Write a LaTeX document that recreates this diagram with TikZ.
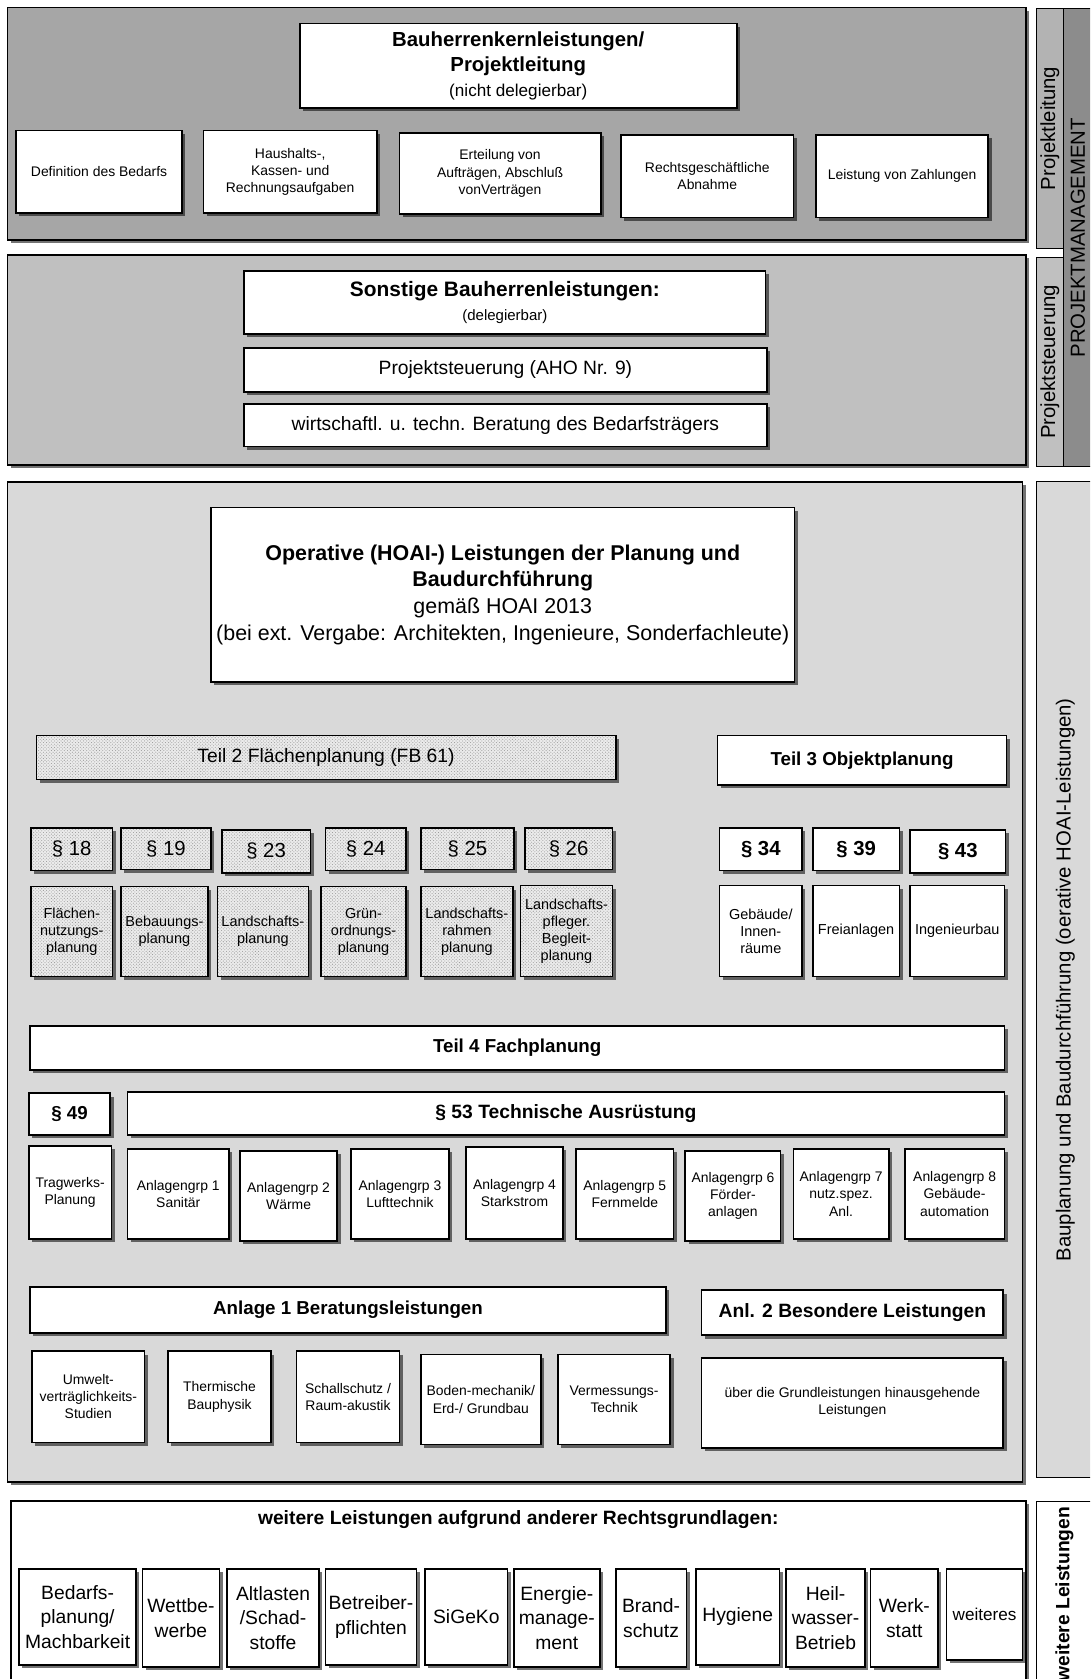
\documentclass[tikz,border=0pt]{standalone}
\usepackage{fontspec}
\setmainfont{Liberation Sans}
\usetikzlibrary{shadows, patterns}
\definecolor{pnlA}{HTML}{A6A6A6}
\definecolor{pnlB}{HTML}{C0C0C0}
\definecolor{pnlC}{HTML}{D9D9D9}
\definecolor{sideA}{HTML}{B3B3B3}
\definecolor{sideM}{HTML}{8C8C8C}

\begin{document}
\begin{tikzpicture}[x=1pt, y=-1pt,
  sz/.style 2 args={minimum width=#1, minimum height=#2},
  shdw/.style={drop shadow={shadow xshift=3pt, shadow yshift=-3pt, fill=black, opacity=.55}},
  pnl/.style={draw, line width=1.6pt, fill=#1, shdw, inner sep=0pt},
  sidebox/.style={draw, line width=0.9pt, fill=#1, rotate=90, inner sep=0pt,
    font=\fontsize{19}{22}\selectfont},
  cell/.style={draw, line width=1.6pt, fill=white, shdw, align=center, inner sep=1pt,
    font=\fontsize{13}{16}\selectfont},
  headbox/.style={cell, font=\bfseries\fontsize{17.5}{21}\selectfont},
  parbox/.style={cell, font=\fontsize{19}{22}\selectfont},
  parboxb/.style={cell, font=\bfseries\fontsize{19}{22}\selectfont},
  bigbox/.style={cell, font=\fontsize{18}{23}\selectfont},
  grain/.style={preaction={fill=black!8}, pattern=crosshatch dots, pattern color=black!40},
]

\clip (0,0) rectangle (1018,1568);
\fill[white] (0,0) rectangle (1018,1568);

% =============================================
% Background panels and side bars
% =============================================
\node[pnl=pnlA, sz={951}{217}] (plPanel) at (482.5,115.5) {};
\node[pnl=pnlB, sz={951}{196}] (psPanel) at (482.5,336) {};
\node[pnl=pnlC, sz={948}{934}] (bpPanel) at (481,917) {};
\node[pnl=white, sz={948}{200}] (wlPanel) at (484,1502) {};

\node[sidebox=sideA, sz={224}{25}] (plSide) at (980.5,120) {Projektleitung};
\node[sidebox=sideM, sz={428}{27}] (pmSide) at (1006.5,222) {PROJEKTMANAGEMENT};
\node[sidebox=pnlB, sz={196}{25}] (psSide) at (980.5,338) {Projektsteuerung};
\node[sidebox=pnlC, sz={930}{54}] (bpSide) at (995,915)
  {Bauplanung und Baudurchführung (oerative HOAI-Leistungen)};
\node[sidebox=white, sz={200}{54}] (wlSide) at (995,1502) {};
\node[rotate=90, anchor=east, inner sep=0pt, font=\bfseries\fontsize{18}{22}\selectfont]
  (wlLabel) at (994,1407) {weitere Leistungen};

% =============================================
% Projektleitung
% =============================================
\node[cell, sz={408}{79}, font=\fontsize{19}{23}\selectfont] (kern) at (484,61.5)
  {\textbf{Bauherrenkernleistungen/}\\\textbf{Projektleitung}\\{\fontsize{16}{20}\selectfont (nicht delegierbar)}};

\node[cell, sz={155}{77}] (bedarf) at (92.5,160.5) {Definition des Bedarfs};
\node[cell, sz={162}{77}] (kasse) at (271,160.5) {Haushalts-,\\Kassen- und\\Rechnungsaufgaben};
\node[cell, sz={188}{76}] (auftrag) at (467,162) {Erteilung von\\Aufträgen, Abschluß\\vonVerträgen};
\node[cell, sz={161}{77}] (abnahme) at (660.5,164.5) {Rechtsgeschäftliche\\Abnahme};
\node[cell, sz={161}{77}] (zahlung) at (842.5,164.5) {Leistung von Zahlungen};

% =============================================
% Projektsteuerung
% =============================================
\node[cell, sz={487}{59}, font=\bfseries\fontsize{19.5}{23}\selectfont] (sonstige) at (471.5,282.5)
  {Sonstige Bauherrenleistungen:\\{\mdseries\fontsize{14}{17}\selectfont (delegierbar)}};
\node[cell, sz={488}{41}, font=\fontsize{18}{22}\selectfont] (aho) at (472,345.5)
  {Projektsteuerung (AHO Nr. 9)};
\node[cell, sz={488}{40}, font=\fontsize{18}{22}\selectfont] (beratung) at (472,397)
  {wirtschaftl. u. techn. Beratung des Bedarfsträgers};

% =============================================
% Operative HOAI-Leistungen
% =============================================
\node[cell, sz={545}{163}, font=\fontsize{20}{25}\selectfont] (operativ) at (469.5,555.5)
  {\textbf{Operative (HOAI-) Leistungen der Planung und}\\\textbf{Baudurchführung}\\gemäß HOAI 2013\\(bei ext. Vergabe: Architekten, Ingenieure, Sonderfachleute)};

% Teil 2
\node[cell, grain, sz={541}{41}, font=\fontsize{18}{22}\selectfont] (teilzwei) at (304.5,707.5)
  {Teil 2 Flächenplanung (FB 61)};

\node[parbox, grain, sz={76}{40}] (p18) at (67,793) {§ 18};
\node[parbox, grain, sz={84}{39}] (p19) at (155,792.5) {§ 19};
\node[parbox, grain, sz={83}{40}] (p23) at (248.5,795) {§ 23};
\node[parbox, grain, sz={75}{40}] (p24) at (341.5,793) {§ 24};
\node[parbox, grain, sz={87}{39}] (p25) at (436.5,792.5) {§ 25};
\node[parbox, grain, sz={82}{39}] (p26) at (531,792.5) {§ 26};

\node[cell, grain, sz={76}{84}, font=\fontsize{13.5}{16}\selectfont] (fnp) at (67,870) {Flächen-\\nutzungs-\\planung};
\node[cell, grain, sz={81}{84}, font=\fontsize{13.5}{16}\selectfont] (bbp) at (153.5,870) {Bebauungs-\\planung};
\node[cell, grain, sz={85}{84}, font=\fontsize{13.5}{16}\selectfont] (lsp) at (245.5,870) {Landschafts-\\planung};
\node[cell, grain, sz={79}{84}, font=\fontsize{13.5}{16}\selectfont] (gop) at (339.5,870) {Grün-\\ordnungs-\\planung};
\node[cell, grain, sz={86}{84}, font=\fontsize{13.5}{16}\selectfont] (lrp) at (436,870) {Landschafts-\\rahmen\\planung};
\node[cell, grain, sz={86}{85}, font=\fontsize{13.5}{16}\selectfont] (lpb) at (529,869.5) {Landschafts-\\pfleger.\\Begleit-\\planung};

% Teil 3
\node[headbox, sz={270}{46}] (teildrei) at (805,710) {Teil 3 Objektplanung};

\node[parboxb, sz={77}{40}] (p34) at (710.5,793) {§ 34};
\node[parboxb, sz={81}{40}] (p39) at (799.5,793) {§ 39};
\node[parboxb, sz={89}{40}] (p43) at (894.5,795) {§ 43};

\node[cell, sz={77}{85}, font=\fontsize{13.5}{16}\selectfont] (gebaeude) at (710.5,869.5) {Gebäude/\\Innen-\\räume};
\node[cell, sz={81}{85}, font=\fontsize{13.5}{16}\selectfont] (frei) at (799.5,869.5) {Freianlagen};
\node[cell, sz={88}{85}, font=\fontsize{13.5}{16}\selectfont] (ingbau) at (894,869.5) {Ingenieurbau};

% Teil 4
\node[headbox, sz={910}{41}] (teilvier) at (483,978.5) {Teil 4 Fachplanung};
\node[headbox, sz={76}{39}] (p49) at (65,1040.5) {§ 49};
\node[headbox, sz={819}{40}, font=\bfseries\fontsize{18}{21}\selectfont] (p53) at (528.5,1040)
  {§ 53 Technische Ausrüstung};

\node[cell, sz={77}{87}] (trag) at (65.5,1113.5) {Tragwerks-\\Planung};
\node[cell, sz={95}{84}] (ag1) at (166.5,1115) {Anlagengrp 1\\Sanitär};
\node[cell, sz={91}{84}] (ag2) at (269.5,1117) {Anlagengrp 2\\Wärme};
\node[cell, sz={91}{84}] (ag3) at (373.5,1115) {Anlagengrp 3\\Lufttechnik};
\node[cell, sz={91}{86}] (ag4) at (480.5,1114) {Anlagengrp 4\\Starkstrom};
\node[cell, sz={91}{84}] (ag5) at (583.5,1115) {Anlagengrp 5\\Fernmelde};
\node[cell, sz={89}{84}] (ag6) at (684.5,1117) {Anlagengrp 6\\Förder-\\anlagen};
\node[cell, sz={89}{84}] (ag7) at (785.5,1115) {Anlagengrp 7\\nutz.spez.\\Anl.};
\node[cell, sz={93}{84}] (ag8) at (891.5,1115) {Anlagengrp 8\\Gebäude-\\automation};

% Anlagen 1 und 2
\node[headbox, sz={594}{43}] (anleins) at (325,1223.5) {Anlage 1 Beratungsleistungen};
\node[headbox, sz={282}{42}, font=\bfseries\fontsize{18}{21}\selectfont] (anlzwei) at (796,1226)
  {Anl. 2 Besondere Leistungen};

\node[cell, sz={105}{85}] (umwelt) at (82.5,1304.5) {Umwelt-\\verträglichkeits-\\Studien};
\node[cell, sz={96}{85}] (thermik) at (205,1304.5) {Thermische\\Bauphysik};
\node[cell, sz={96}{85}] (akustik) at (325,1304.5) {Schallschutz /\\Raum-akustik};
\node[cell, sz={112}{84}] (boden) at (449,1307) {Boden-mechanik/\\Erd-/ Grundbau};
\node[cell, sz={105}{84}] (vermessung) at (573.5,1307) {Vermessungs-\\Technik};
\node[cell, sz={282}{84}] (besondere) at (796,1310) {über die Grundleistungen hinausgehende\\Leistungen};

% =============================================
% Weitere Leistungen
% =============================================
\node[font=\bfseries\fontsize{18}{22}\selectfont] (wltitel) at (484,1419)
  {weitere Leistungen aufgrund anderer Rechtsgrundlagen:};

\node[bigbox, sz={109}{90}] (bplan) at (72.5,1510) {Bedarfs-\\planung/\\Machbarkeit};
\node[bigbox, sz={72}{92}] (wettb) at (169,1511) {Wettbe-\\werbe};
\node[bigbox, sz={86}{92}] (altlast) at (255,1511) {Altlasten\\/Schad-\\stoffe};
\node[bigbox, sz={85}{90}] (betreiber) at (346.5,1510) {Betreiber-\\pflichten};
\node[bigbox, sz={77}{90}] (sigeko) at (435.5,1510) {SiGeKo};
\node[bigbox, sz={80}{92}] (energie) at (520,1511) {Energie-\\manage-\\ment};
\node[bigbox, sz={66}{92}] (brand) at (608,1511) {Brand-\\schutz};
\node[bigbox, sz={78}{90}] (hygiene) at (689,1510) {Hygiene};
\node[bigbox, sz={74}{92}] (heilwasser) at (771,1511) {Heil-\\wasser-\\Betrieb};
\node[bigbox, sz={63}{92}] (werkstatt) at (844.5,1511) {Werk-\\statt};
\node[bigbox, sz={71}{85}, font=\fontsize{16}{20}\selectfont] (weiteres) at (919.5,1507.5) {weiteres};

\end{tikzpicture}
\end{document}
